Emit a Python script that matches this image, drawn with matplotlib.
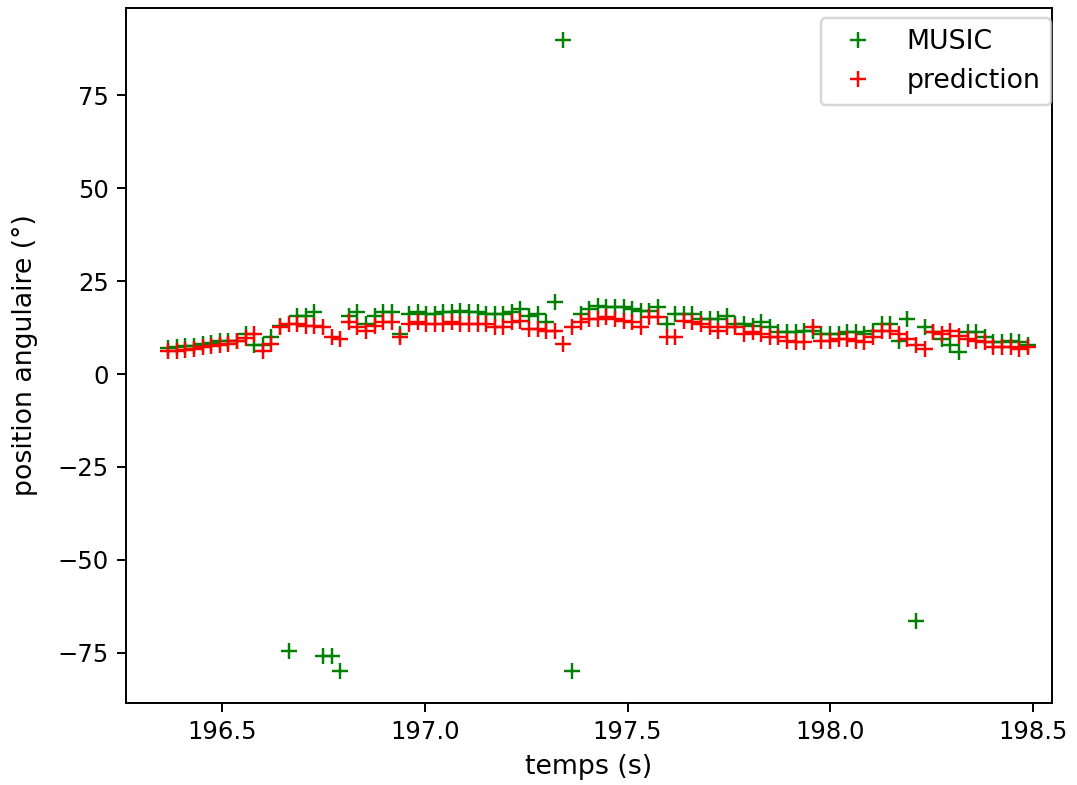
import matplotlib
matplotlib.use("Agg")
import matplotlib.pyplot as plt

# time stamps (s)
temps = [196.367, 196.388, 196.409, 196.431, 196.452, 196.473, 196.494, 196.515, 196.537, 196.558,
         196.579, 196.600, 196.621, 196.643, 196.664, 196.685, 196.706, 196.727, 196.749, 196.770,
         196.791, 196.812, 196.833, 196.855, 196.876, 196.897, 196.918, 196.939, 196.961, 196.982,
         197.003, 197.024, 197.045, 197.067, 197.088, 197.109, 197.130, 197.151, 197.173, 197.194,
         197.215, 197.236, 197.257, 197.279, 197.300, 197.321, 197.342, 197.363, 197.385, 197.406,
         197.427, 197.448, 197.469, 197.491, 197.512, 197.533, 197.554, 197.575, 197.597, 197.618,
         197.639, 197.660, 197.681, 197.703, 197.724, 197.745, 197.766, 197.787, 197.809, 197.830,
         197.851, 197.872, 197.893, 197.915, 197.936, 197.957, 197.978, 197.999, 198.021, 198.042,
         198.063, 198.084, 198.105, 198.127, 198.148, 198.169, 198.190, 198.211, 198.233, 198.254,
         198.275, 198.296, 198.317, 198.339, 198.360, 198.381, 198.402, 198.423, 198.445, 198.466,
         198.487]

music = [7.0, 7.2, 7.6, 7.6, 8.0, 8.3, 8.8, 8.8, 9.0, 10.8,
         7.7, 7.7, 9.9, 13.0, -74.5, 15.7, 15.7, 16.6, -75.8, -75.8,
         -80.0, 15.7, 16.6, 13.5, 15.7, 16.6, 16.6, 10.8, 16.2, 16.6,
         16.2, 16.2, 16.6, 16.6, 17.1, 16.6, 16.6, 16.2, 16.2, 16.2,
         16.6, 17.5, 15.7, 16.2, 13.9, 19.3, 90.0, -80.0, 16.2, 17.5,
         18.4, 18.0, 18.0, 18.0, 17.5, 17.1, 17.1, 18.0, 13.5, 16.2,
         16.2, 16.2, 14.8, 14.8, 14.8, 15.7, 13.5, 13.5, 13.0, 13.9,
         12.6, 11.3, 11.3, 11.3, 11.7, 11.7, 10.8, 10.8, 10.8, 11.3,
         11.3, 10.8, 11.7, 13.5, 13.5, 9.0, 14.8, -66.5, 12.6, 11.3,
         9.5, 7.7, 5.9, 11.3, 11.3, 10.0, 8.6, 8.6, 9.0, 8.6,
         7.7]

prediction = [6.1, 6.3, 6.5, 6.8, 7.2, 7.6, 7.9, 8.2, 8.8, 9.8,
              10.8, 6.3, 8.2, 12.6, 13.5, 13.5, 13.0, 13.0, 12.6, 9.9,
              9.5, 13.9, 12.6, 11.7, 13.0, 13.9, 13.9, 9.9, 13.5, 13.9,
              13.5, 13.5, 13.5, 13.9, 13.5, 13.5, 13.5, 13.5, 12.6, 12.6,
              13.9, 14.2, 12.2, 12.2, 11.7, 11.7, 8.1, 12.6, 13.9, 14.8,
              14.8, 15.3, 14.8, 14.4, 14.0, 12.6, 15.3, 15.3, 9.9, 9.9,
              14.4, 14.0, 13.5, 12.6, 11.7, 12.6, 12.6, 10.8, 11.2, 10.8,
              9.9, 9.9, 9.0, 8.6, 8.6, 12.6, 9.0, 9.0, 9.5, 9.5,
              9.0, 8.6, 9.9, 11.7, 11.7, 10.8, 9.5, 7.7, 6.8, 11.3,
              10.8, 11.7, 10.3, 9.5, 9.0, 8.6, 7.2, 7.2, 7.2, 6.8,
              7.2]

fig = plt.figure(figsize=(1077 / 175, 785 / 175), dpi=175)
ax = fig.add_axes([126 / 1077, 82 / 785, 926 / 1077, 695 / 785])

ax.plot(temps, music, 'g+', ms=6.5, label='MUSIC')
ax.plot(temps, prediction, 'r+', ms=6.5, label='prediction')
ax.set_xlim(196.263, 198.547)
ax.set_ylim(-88.5, 98.5)
ax.set_xlabel('temps (s)', fontsize=11)
ax.set_ylabel('position angulaire (°)', fontsize=11, labelpad=8)
ax.legend(loc='upper right', fontsize=11, borderaxespad=0.0,
          bbox_to_anchor=(0.999, 0.985))

fig.savefig('out.png', dpi=175)
